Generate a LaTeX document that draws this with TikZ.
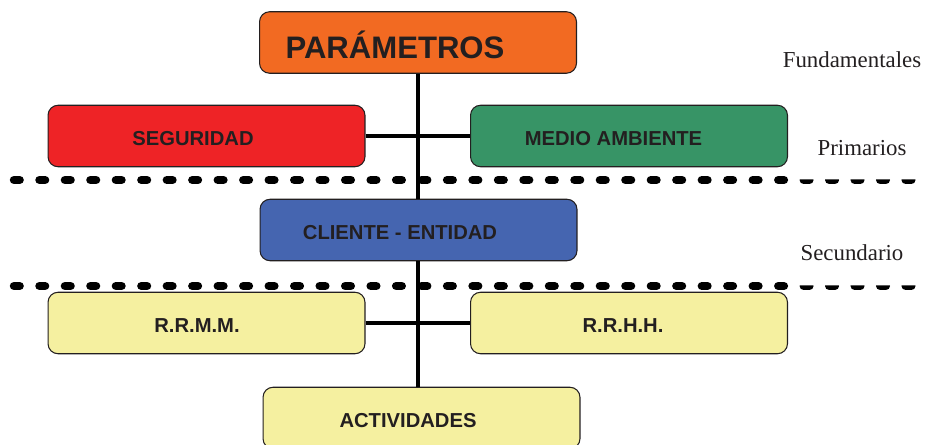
\documentclass[tikz,border=0pt]{standalone}
\usepackage{fontspec}
\setmainfont{Liberation Serif}
\setsansfont{Liberation Sans}
\usepackage{xcolor}
\usepackage{tikz}
\usetikzlibrary{positioning}

\definecolor{naranja}{HTML}{F26A22}
\definecolor{rojo}{HTML}{EE2326}
\definecolor{verde}{HTML}{379466}
\definecolor{azul}{HTML}{4565B0}
\definecolor{amarillo}{HTML}{F5F0A0}
\definecolor{tinta}{HTML}{231F20}

\tikzset{
	caja/.style={draw=tinta,line width=0.6pt,rounded corners=0.2cm,minimum width=6.34cm,minimum height=1.23cm,inner sep=0pt},
	rotulo/.style={font=\sffamily\bfseries\fontsize{11.5}{13}\selectfont,text=tinta},
	nivel/.style={font=\fontsize{13}{15}\selectfont,text=tinta},
	separador/.style={line width=4.8pt,line cap=round,dash pattern=on 3.2pt off 11.3pt},
	enlace/.style={line width=2pt,black}
}

\begin{document}
\begin{tikzpicture}[x=0.02cm,y=-0.02cm]
	\useasboundingbox (0,0) rectangle (925,445);
	% niveles
	\begin{scope}
		\clip (0,0) rectangle (795,445);
		\draw[separador] (14,180) -- (922,180);
		\draw[separador] (14,286) -- (922,286);
	\end{scope}
	\begin{scope}
		\clip (795,179.5) rectangle (925,200) (795,285.5) rectangle (925,300);
		\draw[separador] (14,180) -- (922,180);
		\draw[separador] (14,286) -- (922,286);
	\end{scope}
	% cajas
	\node[caja,fill=naranja,label={[font=\sffamily\bfseries\fontsize{17.7}{20}\selectfont,text=tinta,xshift=-0.46cm,yshift=-0.05cm]center:PARÁMETROS}] (par) at (418,42.5) {};
	\node[caja,fill=rojo,label={[rotulo,xshift=-0.27cm,yshift=-0.05cm]center:SEGURIDAD}] (seg) at (206.5,136) {};
	\node[caja,fill=verde,label={[rotulo,xshift=-0.31cm,yshift=-0.05cm]center:MEDIO AMBIENTE}] (med) at (629,136) {};
	\node[caja,fill=azul,label={[rotulo,xshift=-0.37cm,yshift=-0.05cm]center:CLIENTE - ENTIDAD}] (cli) at (418.5,230) {};
	\node[caja,fill=amarillo,label={[rotulo,xshift=-0.19cm,yshift=-0.05cm]center:R.R.M.M.}] (rrmm) at (206.5,323) {};
	\node[caja,fill=amarillo,label={[rotulo,xshift=-0.12cm,yshift=-0.05cm]center:R.R.H.H.}] (rrhh) at (629,323) {};
	\node[caja,fill=amarillo,label={[rotulo,xshift=-0.27cm,yshift=-0.05cm]center:ACTIVIDADES}] (act) at (421.5,418) {};
	% lineas
	\draw[enlace] (par.south) -- (par.south |- cli.north);
	\draw[enlace] (par.south |- cli.south) -- (par.south |- act.north);
	\draw[enlace] (seg.east) -- (med.west);
	\draw[enlace] (rrmm.east) -- (rrhh.west);
	% etiquetas
	\node[nivel] (fun) at (852,60) {Fundamentales};
	\node[nivel] (pri) at (862,148) {Primarios};
	\node[nivel] (sec) at (852,253) {Secundario};
\end{tikzpicture}
\end{document}
